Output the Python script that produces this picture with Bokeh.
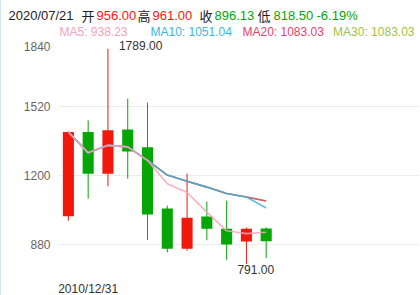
from bokeh.plotting import figure
from bokeh.models import ColumnDataSource, FixedTicker
from bokeh.layouts import column
from bokeh.core.properties import value
from bokeh.embed import file_html
from bokeh.resources import INLINE

# ---- data ----
dates = ["2009/12/31", "2010/12/31", "2011/12/30", "2012/12/31", "2013/12/31",
         "2014/12/31", "2015/12/31", "2016/12/30", "2017/12/29", "2018/12/28", "2020/07/21"]
opens = [1012, 1403, 1210, 1415, 1332, 1048, 862, 1011, 955, 895, 956.00]
closes = [1403, 1210, 1411, 1313, 1021, 862, 1006, 955, 881, 955, 896.13]
lows = [992, 1094, 1151, 1187, 903, 845, 853, 901, 811, 791.00, 818.50]
highs = [1406, 1457, 1789.00, 1558, 1539, 1062, 1210, 1080, 1085, 960, 961.00]
ma5 = [1403, 1306.5, 1341.3, 1334.25, 1271.6, 1163.4, 1122.6, 1031.4, 945, 931.8, 938.23]
ma10 = [1403, 1306.5, 1341.3, 1334.25, 1271.6, 1203.3, 1175.1, 1147.6, 1118, 1101.7, 1051.04]
ma20 = [1403, 1306.5, 1341.3, 1334.25, 1271.6, 1203.3, 1175.1, 1147.6, 1118, 1101.7, 1083.03]
ma30 = [1403, 1306.5, 1341.3, 1334.25, 1271.6, 1203.3, 1175.1, 1147.6, 1118, 1101.7, 1083.03]
change_pct = "-6.19%"
y_ticks = [880, 1200, 1520]
y_top = 1800
y_top_label = "1840"
x_label_index = 1

RED = "#f2180c"
GREEN = "#05a605"
C_MA5 = "#f7a2bb"
C_MA10 = "#3db5de"
C_MA20 = "#e5436d"
C_MA30 = "#a4bf3e"
FONT = "Liberation Sans"
CJK = "Noto Sans CJK SC"

W = 419  # width right of the 1px left border
HEADER_H = 38

idx = list(range(len(dates)))
colors = [RED if c >= o else GREEN for o, c in zip(opens, closes)]
src = ColumnDataSource(dict(
    x=idx, top=[max(o, c) for o, c in zip(opens, closes)],
    bottom=[min(o, c) for o, c in zip(opens, closes)],
    low=lows, high=highs, color=colors,
    ma5=ma5, ma10=ma10, ma20=ma20, ma30=ma30))

# ---- header (info text) ----
h = figure(width=W, height=HEADER_H, x_range=(1, 1 + W), y_range=(HEADER_H, 0),
           min_border=0, x_axis_location=None, y_axis_location=None,
           output_backend="svg", toolbar_location=None, tools="")
h.frame_align = False
h.grid.visible = False
h.outline_line_color = None

last = len(dates) - 1
header1 = [
    (dates[last], 8, "#222222", FONT),
    ("开", 81, "#222222", CJK),
    ("%.2f" % opens[last], 96, RED, FONT),
    ("高", 137, "#222222", CJK),
    ("%.2f" % highs[last], 152, RED, FONT),
    ("收", 199, "#222222", CJK),
    ("%.2f" % closes[last], 214, GREEN, FONT),
    ("低", 257, "#222222", CJK),
    ("%.2f" % lows[last], 273, GREEN, FONT),
    (change_pct, 316, GREEN, FONT),
]
for t, x, c, f in header1:
    h.text(x=[x], y=[15], text=[t], text_font=value(f), text_font_size="13px",
           text_color=c, text_baseline="middle", text_align="left")

header2 = [
    ("MA5: %.2f" % ma5[last], 59, C_MA5, "left"),
    ("MA10: %.2f" % ma10[last], 150, C_MA10, "left"),
    ("MA20: %.2f" % ma20[last], 242, C_MA20, "left"),
    ("MA30: %.2f" % ma30[last], 414, C_MA30, "right"),
]
for t, x, c, a in header2:
    h.text(x=[x], y=[31], text=[t], text_font=value(FONT), text_font_size="12px",
           text_color=c, text_baseline="middle", text_align=a)

# ---- main chart ----
p = figure(width=W, height=295 - HEADER_H, frame_width=360, frame_height=237,
           min_border_left=57, min_border_top=0, min_border_right=2, min_border_bottom=20,
           x_range=(-0.5, 17.7), y_range=(737.7, 1836.8),
           output_backend="svg", toolbar_location=None, tools="")
p.frame_align = False
p.outline_line_color = None

p.xgrid.visible = False
p.ygrid.ticker = FixedTicker(ticks=y_ticks)
p.ygrid.grid_line_color = "#ebebeb"

p.yaxis.ticker = FixedTicker(ticks=y_ticks + [y_top])
p.yaxis.major_label_overrides = {y_top: y_top_label}
p.yaxis.axis_line_color = None
p.yaxis.major_tick_line_color = None
p.yaxis.minor_tick_line_color = None
p.yaxis.major_label_standoff = 2
p.yaxis.major_label_text_font = FONT
p.yaxis.major_label_text_font_size = "12px"
p.yaxis.major_label_text_color = "#666666"

p.xaxis.ticker = FixedTicker(ticks=[x_label_index])
p.xaxis.major_label_overrides = {x_label_index: dates[x_label_index]}
p.xaxis.axis_line_color = None
p.xaxis.major_tick_line_color = None
p.xaxis.minor_tick_line_color = None
p.xaxis.major_label_standoff = 0
p.xaxis.major_label_text_font = FONT
p.xaxis.major_label_text_font_size = "12px"
p.xaxis.major_label_text_color = "#333333"

p.segment(x0="x", x1="x", y0="low", y1="high", color="color", line_width=1, source=src)
p.vbar(x="x", width=0.56, top="top", bottom="bottom", fill_color="color",
       line_color="color", line_width=0, source=src)

p.line("x", "ma30", color=C_MA30, line_width=1.6, line_alpha=0.85, source=src)
p.line("x", "ma20", color=C_MA20, line_width=1.6, line_alpha=0.85, source=src)
p.line("x", "ma10", color=C_MA10, line_width=1.6, line_alpha=0.85, source=src)
p.line("x", "ma5", color=C_MA5, line_width=1.6, line_alpha=0.85, source=src)

hi_i = highs.index(max(highs))
lo_i = lows.index(min(lows))
p.text(x=[hi_i], y=[highs[hi_i]], text=["%.2f" % highs[hi_i]], x_offset=11, y_offset=1,
       text_font=value(FONT), text_font_size="12px", text_color="#333333",
       text_baseline="bottom", text_align="left")
p.text(x=[lo_i], y=[lows[lo_i]], text=["%.2f" % lows[lo_i]], x_offset=-9, y_offset=1,
       text_font=value(FONT), text_font_size="12px", text_color="#333333",
       text_baseline="top", text_align="left")

layout = column(h, p, spacing=0,
                styles={"border-left": "1px solid #cfe5f0"})
open("out.html", "w").write(file_html(layout, INLINE))
